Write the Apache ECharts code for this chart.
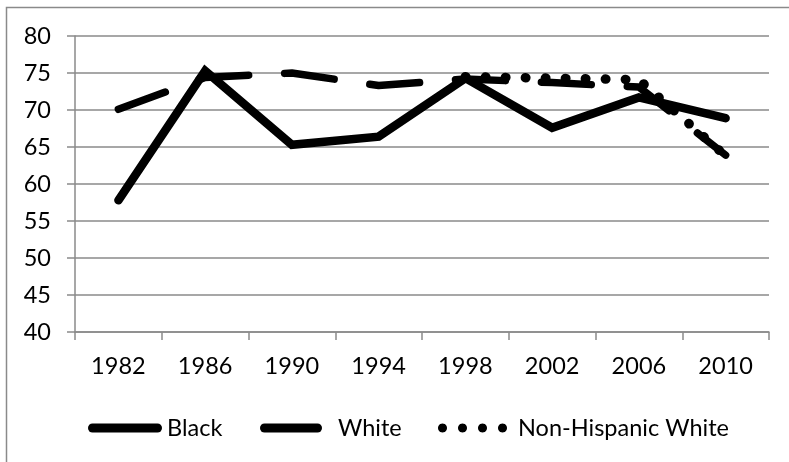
<!DOCTYPE html>
<html>
<head>
<meta charset="utf-8">
<script src="https://cdn.jsdelivr.net/npm/echarts@6/dist/echarts.min.js"></script>
<style>html,body{margin:0;padding:0;background:#fff;}#c{width:789px;height:462px;}</style>
</head>
<body>
<div id="c"></div>
<script>
var categories = ['1982','1986','1990','1994','1998','2002','2006','2010'];
var black = [57.8, 75.3, 65.3, 66.4, 74.3, 67.6, 71.7, 68.9];
var white = [70.1, 74.4, 75.0, 73.3, 74.2, 73.7, 73.1, 63.9];
var nonHispanicWhite = [null, null, null, null, 74.5, 74.3, 74.1, 63.8];

var FONT = 'Lato';
var FS = 23.5;

// legend icon: four round dots (polygon approximations so the bounding box is exact)
function dotsIcon() {
  var s = 'path://';
  [4.5, 24.5, 44.5, 64.5].forEach(function (cx) {
    for (var k = 0; k < 24; k++) {
      var a = k / 24 * Math.PI * 2;
      var x = (cx + 4.5 * Math.cos(a)).toFixed(2), y = (4.5 + 4.5 * Math.sin(a)).toFixed(2);
      s += (k === 0 ? 'M' : 'L') + x + ',' + y + ' ';
    }
    s += 'Z ';
  });
  return s;
}

var chart = echarts.init(document.getElementById('c'));
var legendBase = {
  orient: 'horizontal', top: 411, itemGap: 0,
  itemStyle: { color: '#000', borderWidth: 0, borderColor: '#000' },
  textStyle: { fontFamily: FONT, fontSize: FS, color: '#000', lineHeight: 24 }
};
chart.setOption({
  animation: false,
  backgroundColor: '#fff',
  graphic: [{
    type: 'rect', silent: true,
    shape: { x: 6.5, y: 7.5, width: 900, height: 900 },
    style: { fill: 'none', stroke: '#8a8a8a', lineWidth: 1.5 }
  }],
  grid: { left: 75, right: 20, top: 36, bottom: 130, containLabel: false },
  legend: [
    Object.assign({}, legendBase, {
      left: 83, itemWidth: 74, itemHeight: 9,
      data: [{ name: 'Black', icon: 'path://M4.5,0 H69.5 A4.5,4.5 0 0 1 69.5,9 H4.5 A4.5,4.5 0 0 1 4.5,0 Z' }]
    }),
    Object.assign({}, legendBase, {
      left: 255, itemWidth: 62, itemHeight: 9,
      textStyle: Object.assign({}, legendBase.textStyle, { padding: [0, 0, 0, 11] }),
      data: [{ name: 'White', icon: 'path://M4.5,0 H57.5 A4.5,4.5 0 0 1 57.5,9 H4.5 A4.5,4.5 0 0 1 4.5,0 Z' }]
    }),
    Object.assign({}, legendBase, {
      left: 433, itemWidth: 69, itemHeight: 9,
      textStyle: Object.assign({}, legendBase.textStyle, { padding: [0, 0, 0, 6] }),
      data: [{ name: 'Non-Hispanic White', icon: dotsIcon() }]
    })
  ],
  xAxis: {
    type: 'category', data: categories, boundaryGap: true,
    axisLine: { lineStyle: { color: '#8a8a8a', width: 1.5 } },
    axisTick: { show: true, length: 8, alignWithLabel: false, lineStyle: { color: '#8a8a8a', width: 1.5 } },
    axisLabel: { fontFamily: FONT, fontSize: FS, color: '#000', margin: 22 },
    splitLine: { show: false }
  },
  yAxis: {
    type: 'value', min: 40, max: 80, interval: 5,
    axisLine: { show: true, lineStyle: { color: '#8a8a8a', width: 1.5 } },
    axisTick: { show: true, length: 8, lineStyle: { color: '#8a8a8a', width: 1.5 } },
    axisLabel: { fontFamily: FONT, fontSize: FS, color: '#000', margin: 24 },
    splitLine: { show: true, lineStyle: { color: '#8a8a8a', width: 1.5 } }
  },
  series: [
    {
      name: 'Black', type: 'line', data: black, showSymbol: false, symbol: 'none',
      color: '#000',
      lineStyle: { color: '#000', width: 8.5, cap: 'round', join: 'miter' }
    },
    {
      name: 'White', type: 'line', data: white, showSymbol: false, symbol: 'none',
      color: '#000',
      lineStyle: { color: '#000', width: 7.5, type: [50, 36], cap: 'round', join: 'round' }
    },
    {
      name: 'Non-Hispanic White', type: 'line', data: nonHispanicWhite, showSymbol: false, symbol: 'none',
      color: '#000',
      lineStyle: { color: '#000', width: 9.5, type: [0.5, 19.5], cap: 'round', join: 'round' }
    }
  ]
});
</script>
</body>
</html>
